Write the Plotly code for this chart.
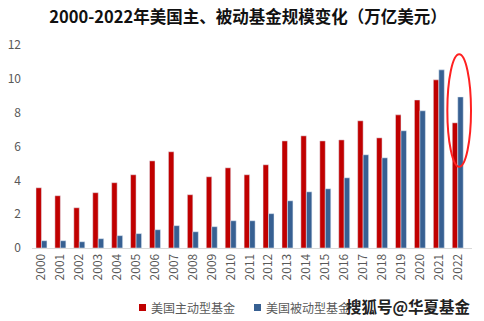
import plotly.graph_objects as go

years = [str(y) for y in range(2000, 2023)]
active = [3.56, 3.09, 2.38, 3.27, 3.86, 4.33, 5.15, 5.69, 3.15, 4.21, 4.74, 4.33,
          4.92, 6.33, 6.63, 6.33, 6.39, 7.52, 6.51, 7.87, 8.75, 9.94, 7.40]
passive = [0.43, 0.43, 0.37, 0.55, 0.73, 0.85, 1.08, 1.32, 0.96, 1.26, 1.61, 1.61,
           2.03, 2.79, 3.32, 3.50, 4.15, 5.51, 5.33, 6.93, 8.11, 10.53, 8.93]
y_ticks = [0, 2, 4, 6, 8, 10, 12]
series_names = ["美国主动型基金", "美国被动型基金"]
series_colors = ["#C00000", "#376092"]

font_cn = "Noto Sans CJK SC, Noto Sans, sans-serif"
W, H = 484, 321
ML, MR, MT, MB = 32, 12, 45, 73
PW, PH = W - ML - MR, H - MT - MB


def px_x(px):
    return (px - ML) / PW


def px_y(py):
    return (H - MB - py) / PH


fig = go.Figure()
for name, vals, col in zip(series_names, [active, passive], series_colors):
    fig.add_trace(go.Bar(x=years, y=vals, name=name, marker_color=col, showlegend=False))

fig.update_layout(
    width=W, height=H,
    margin=dict(l=ML, r=MR, t=MT, b=MB, autoexpand=False),
    paper_bgcolor="white", plot_bgcolor="white",
    barmode="group", bargap=0.42, bargroupgap=0,
    title=dict(text="<b>2000-2022年美国主、被动基金规模变化（万亿美元）</b>",
               x=248 / W, xanchor="center", y=0.947, yanchor="middle",
               font=dict(family=font_cn, size=16.5, color="#111111")),
    font=dict(family=font_cn, size=12, color="#595959"),
)
fig.update_xaxes(type="category", showgrid=False, showline=True, linecolor="#D9D9D9",
                 linewidth=1, tickangle=-90, ticks="", tickfont=dict(size=12, color="#595959"))
fig.update_yaxes(range=[0, 12], tickvals=y_ticks, showgrid=False, zeroline=False,
                 showline=False, ticks="", ticklabelstandoff=10,
                 tickfont=dict(size=12, color="#595959"))

# legend: small square swatch followed by the series name
for sq_x, name, col in zip([139, 254], series_names, series_colors):
    fig.add_shape(type="rect", xref="paper", yref="paper",
                  x0=px_x(sq_x), x1=px_x(sq_x + 7), y0=px_y(311), y1=px_y(304),
                  fillcolor=col, line=dict(width=0))
    fig.add_annotation(text=name, xref="paper", yref="paper", x=px_x(sq_x + 10),
                       y=px_y(307.5), xanchor="left", yanchor="middle", showarrow=False,
                       font=dict(family=font_cn, size=12, color="#595959"))

# highlight the 2022 bars
fig.add_shape(type="circle", xref="x", yref="y", x0=21.45, x1=22.7, y0=4.8, y1=11.45,
              line=dict(color="#FF2020", width=2))

fig.add_annotation(text="<b>搜狐号@华夏基金</b>", xref="paper", yref="paper",
                   x=px_x(473), y=px_y(306), xanchor="right", yanchor="middle",
                   showarrow=False,
                   font=dict(family=font_cn, size=15.5, color="#222222"))

fig.write_html("out.html")
